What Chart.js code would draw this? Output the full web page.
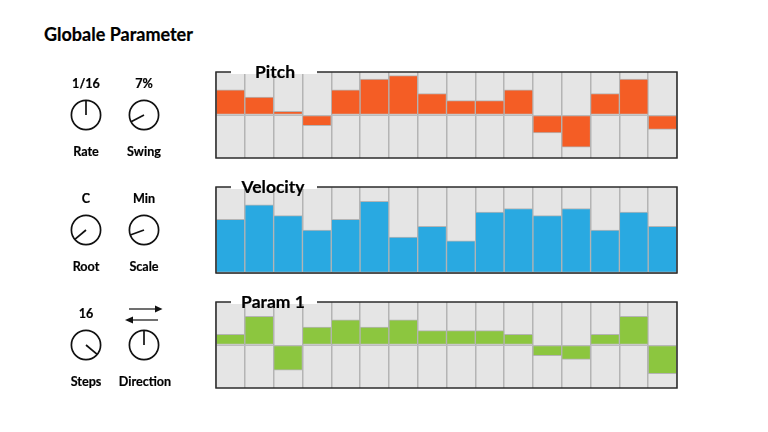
<!DOCTYPE html>
<html>
<head>
<meta charset="utf-8">
<script src="https://cdn.jsdelivr.net/npm/chart.js@4"></script>
<style>
  html, body { margin: 0; background: #fff; }
  body { width: 768px; height: 432px; position: relative; overflow: hidden; font-family: Lato, "Open Sans", sans-serif; font-weight: 700; color: #000; -webkit-text-stroke: 0.2px #000; }
  canvas { position: absolute; }
  .txt { position: absolute; transform: translate(-50%, -50%); white-space: nowrap; font-size: 12.6px; }
  .heading { position: absolute; left: 44px; top: 23px; font-size: 18px; line-height: 22px; white-space: nowrap; }
  .gap { position: absolute; background: #fff; }
  .title { position: absolute; transform: translate(-50%, -50%); font-size: 17.5px; white-space: nowrap; }
  svg { position: absolute; left: 0; top: 0; }
</style>
</head>
<body>
<div class="heading">Globale Parameter</div>
<canvas id="pitchChart" width="465" height="90" style="left:214px;top:70px"></canvas>
<canvas id="velocityChart" width="465" height="90" style="left:214px;top:185px"></canvas>
<canvas id="paramChart" width="465" height="90" style="left:214px;top:300px"></canvas>
<svg id="knobs" width="768" height="432"></svg>
<script>
// Step sequencer values
const steps = ['1','2','3','4','5','6','7','8','9','10','11','12','13','14','15','16'];
const pitchValues = [7, 5, 1, -3, 7, 10, 11, 6, 4, 4, 7, -5, -9, 6, 10, -4];
const velocityValues = [15, 19, 16, 12, 15, 20, 10, 13, 9, 17, 18, 16, 18, 12, 17, 13];
const paramValues = [3, 8, -7, 5, 7, 5, 7, 4, 4, 4, 3, -3, -4, 3, 8, -8];

// Knob captions
const knobNames = ['Rate', 'Swing', 'Root', 'Scale', 'Steps', 'Direction'];
const knobReadouts = ['1/16', '7%', 'C', 'Min', '16', ''];
const knobAngles = [0, -118, -130, -110, 130, 0];

// Fill the cells grey and draw the frame
const cellFrame = {
    id: 'cellFrame',
    beforeDraw(chart) {
        const a = chart.chartArea;
        chart.ctx.save();
        chart.ctx.fillStyle = '#e5e5e5';
        chart.ctx.fillRect(a.left, a.top, a.right - a.left, a.bottom - a.top);
        chart.ctx.restore();
    },
    afterDraw(chart) {
        const a = chart.chartArea;
        chart.ctx.save();
        chart.ctx.strokeStyle = '#2b2b2b';
        chart.ctx.lineWidth = 1.5;
        chart.ctx.strokeRect(a.left, a.top, a.right - a.left, a.bottom - a.top);
        chart.ctx.restore();
    }
};

function stepChart(id, values, color, yMin, yMax) {
    new Chart(document.getElementById(id), {
        type: 'bar',
        data: {
            labels: steps,
            datasets: [{
                data: values,
                backgroundColor: color,
                borderColor: '#b4b4b4',
                borderWidth: 1,
                borderSkipped: false,
                barPercentage: 1,
                categoryPercentage: 1
            }]
        },
        options: {
            responsive: false,
            animation: false,
            layout: { padding: 2 },
            plugins: { legend: { display: false }, tooltip: { enabled: false } },
            scales: {
                x: {
                    ticks: { display: false },
                    border: { display: false },
                    grid: { color: '#b4b4b4', lineWidth: 1.5, drawTicks: false }
                },
                y: {
                    min: yMin,
                    max: yMax,
                    afterBuildTicks: (axis) => {
                        axis.ticks = [{ value: yMin }, { value: (yMin + yMax) / 2 }, { value: yMax }];
                    },
                    ticks: { display: false },
                    border: { display: false },
                    grid: { color: (c) => c.tick.value === 0 ? '#bcbcbc' : 'transparent', lineWidth: 1, drawTicks: false }
                }
            }
        },
        plugins: [cellFrame]
    });
}

stepChart('pitchChart', pitchValues, '#f45d25', -12, 12);
stepChart('velocityChart', velocityValues, '#29a9e1', 0, 24);
stepChart('paramChart', paramValues, '#8cc63f', -12, 12);

// Titles sit over the top edge of each panel
[['Pitch', 275, 70.5, 68], ['Velocity', 273, 186, 183], ['Param 1', 273, 300.5, 298]].forEach(([text, x, y, gapTop]) => {
    const gap = document.createElement('div');
    gap.className = 'gap';
    gap.style.cssText = `left:231px;width:86px;top:${gapTop}px;height:6px`;
    document.body.appendChild(gap);
    const el = document.createElement('div');
    el.className = 'title';
    el.textContent = text;
    el.style.left = x + 'px';
    el.style.top = y + 'px';
    document.body.appendChild(el);
});

// Knobs, two to a row
const svg = document.getElementById('knobs');
const knobX = [86, 144];
const knobY = [115, 230, 345];
let svgMarkup = '';
knobNames.forEach((name, i) => {
    const cx = knobX[i % 2];
    const cy = knobY[Math.floor(i / 2)];
    const rad = knobAngles[i] * Math.PI / 180;
    svgMarkup += `<circle cx="${cx}" cy="${cy}" r="14.6" fill="#fff" stroke="#111" stroke-width="1.7"/>`;
    svgMarkup += `<line x1="${cx}" y1="${cy}" x2="${cx + 14.6 * Math.sin(rad)}" y2="${cy - 14.6 * Math.cos(rad)}" stroke="#111" stroke-width="1.7"/>`;

    const label = document.createElement('div');
    label.className = 'txt';
    label.textContent = name;
    label.style.left = (cx + (name === 'Direction' ? 1 : 0)) + 'px';
    label.style.top = (cy + 36) + 'px';
    document.body.appendChild(label);

    if (knobReadouts[i]) {
        const readout = document.createElement('div');
        readout.className = 'txt';
        readout.textContent = knobReadouts[i];
        readout.style.left = cx + 'px';
        readout.style.top = (cy - 32.5) + 'px';
        document.body.appendChild(readout);
    }
});
// Direction arrows
svgMarkup += '<line x1="129" y1="309" x2="156" y2="309" stroke="#111" stroke-width="1.2"/><polygon points="155,305.5 162.5,309 155,312.5" fill="#111"/>';
svgMarkup += '<line x1="132" y1="320" x2="158" y2="320" stroke="#111" stroke-width="1.2"/><polygon points="133,316.5 125,320 133,323.5" fill="#111"/>';
svg.innerHTML = svgMarkup;
</script>
</body>
</html>
